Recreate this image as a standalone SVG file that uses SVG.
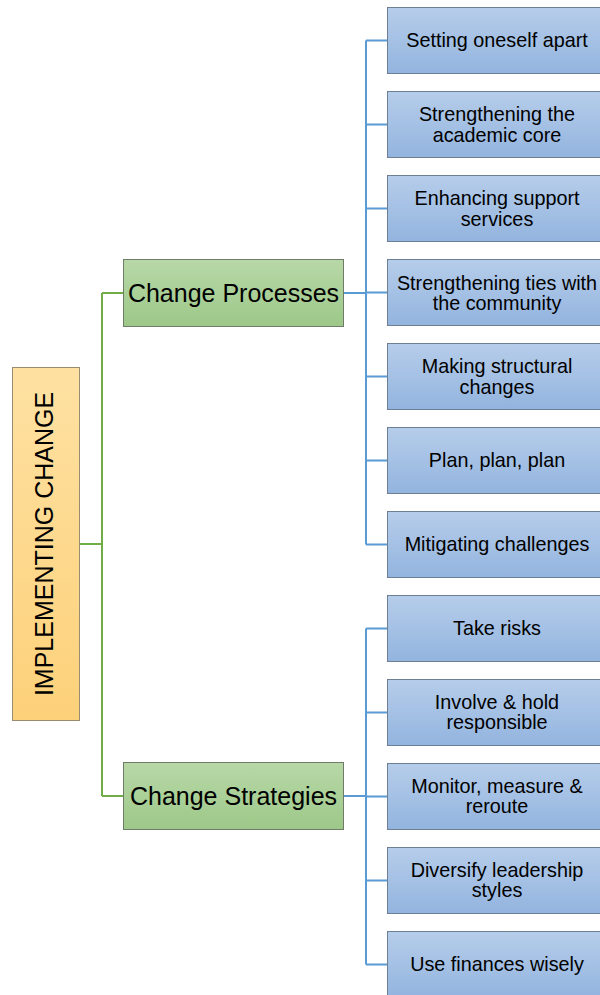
<svg xmlns="http://www.w3.org/2000/svg" width="600" height="995" viewBox="0 0 600 995">
  <defs>
    <linearGradient id="gBlue" x1="0" y1="0" x2="0" y2="1">
      <stop offset="0" stop-color="#b6cdea"/>
      <stop offset="1" stop-color="#93b4df"/>
    </linearGradient>
    <linearGradient id="gGreen" x1="0" y1="0" x2="0" y2="1">
      <stop offset="0" stop-color="#b8d8a7"/>
      <stop offset="1" stop-color="#9dc889"/>
    </linearGradient>
    <linearGradient id="gOrange" x1="0" y1="0" x2="0" y2="1">
      <stop offset="0" stop-color="#fee1a2"/>
      <stop offset="1" stop-color="#fdd17a"/>
    </linearGradient>
  </defs>
  <style>
    text { font-family: "Liberation Sans", Arial, sans-serif; fill: #000; text-anchor: middle; }
    .leaf rect { fill: url(#gBlue); stroke: #6f7f92; stroke-width: 1; }
    .leaf text { font-size: 19.8px; }
    .branch rect { fill: url(#gGreen); stroke: #6f7c68; stroke-width: 1; }
    .branch text { font-size: 25px; }
    .root rect { fill: url(#gOrange); stroke: #9a8c70; stroke-width: 1; }
    .root text { font-size: 25px; }
    .g { stroke: #70ad47; stroke-width: 2; fill: none; }
    .b { stroke: #5b9bd5; stroke-width: 2; fill: none; }
  </style>

  <!-- connectors -->
  <g id="connectors">
    <path class="g" d="M80 544 H102 M102 293 V796 M102 293 H123 M102 796 H123"/>
    <path class="b" d="M344 293 H366 M366 40.5 V544.5 M366 40.5 H387 M366 124.5 H387 M366 208.5 H387 M366 292.5 H387 M366 376.5 H387 M366 460.5 H387 M366 544.5 H387"/>
    <path class="b" d="M344 796 H366 M366 628.5 V964.5 M366 628.5 H387 M366 712.5 H387 M366 796.5 H387 M366 880.5 H387 M366 964.5 H387"/>
  </g>

  <!-- root -->
  <g id="root" class="root">
    <rect x="12.5" y="367.5" width="67" height="353"/>
    <text transform="translate(53 544) rotate(-90)">IMPLEMENTING CHANGE</text>
  </g>

  <!-- branches -->
  <g id="change-processes" class="branch">
    <rect x="123.5" y="259.5" width="220" height="67"/>
    <text x="233.5" y="302">Change Processes</text>
  </g>
  <g id="change-strategies" class="branch">
    <rect x="123.5" y="762.5" width="220" height="67"/>
    <text x="233.5" y="805">Change Strategies</text>
  </g>

  <!-- leaves: change processes -->
  <g id="setting-apart" class="leaf">
    <rect x="387.5" y="7.5" width="216" height="66"/>
    <text x="497" y="47">Setting oneself apart</text>
  </g>
  <g id="academic-core" class="leaf">
    <rect x="387.5" y="91.5" width="216" height="66"/>
    <text x="497" y="121">Strengthening the</text>
    <text x="497" y="141.5">academic core</text>
  </g>
  <g id="support-services" class="leaf">
    <rect x="387.5" y="175.5" width="216" height="66"/>
    <text x="497" y="205">Enhancing support</text>
    <text x="497" y="225.5">services</text>
  </g>
  <g id="community-ties" class="leaf">
    <rect x="387.5" y="259.5" width="216" height="66"/>
    <text x="497" y="289.5">Strengthening ties with</text>
    <text x="497" y="310">the community</text>
  </g>
  <g id="structural-changes" class="leaf">
    <rect x="387.5" y="343.5" width="216" height="66"/>
    <text x="497" y="373">Making structural</text>
    <text x="497" y="393.5">changes</text>
  </g>
  <g id="plan" class="leaf">
    <rect x="387.5" y="427.5" width="216" height="66"/>
    <text x="497" y="467">Plan, plan, plan</text>
  </g>
  <g id="mitigating" class="leaf">
    <rect x="387.5" y="511.5" width="216" height="66"/>
    <text x="497" y="551">Mitigating challenges</text>
  </g>

  <!-- leaves: change strategies -->
  <g id="take-risks" class="leaf">
    <rect x="387.5" y="595.5" width="216" height="66"/>
    <text x="497" y="634.5">Take risks</text>
  </g>
  <g id="involve" class="leaf">
    <rect x="387.5" y="679.5" width="216" height="66"/>
    <text x="497" y="708.5">Involve &amp; hold</text>
    <text x="497" y="729">responsible</text>
  </g>
  <g id="monitor" class="leaf">
    <rect x="387.5" y="763.5" width="216" height="66"/>
    <text x="497" y="792.5">Monitor, measure &amp;</text>
    <text x="497" y="813">reroute</text>
  </g>
  <g id="leadership" class="leaf">
    <rect x="387.5" y="847.5" width="216" height="66"/>
    <text x="497" y="876.5">Diversify leadership</text>
    <text x="497" y="897">styles</text>
  </g>
  <g id="finances" class="leaf">
    <rect x="387.5" y="931.5" width="216" height="66"/>
    <text x="497" y="970.5">Use finances wisely</text>
  </g>
</svg>
